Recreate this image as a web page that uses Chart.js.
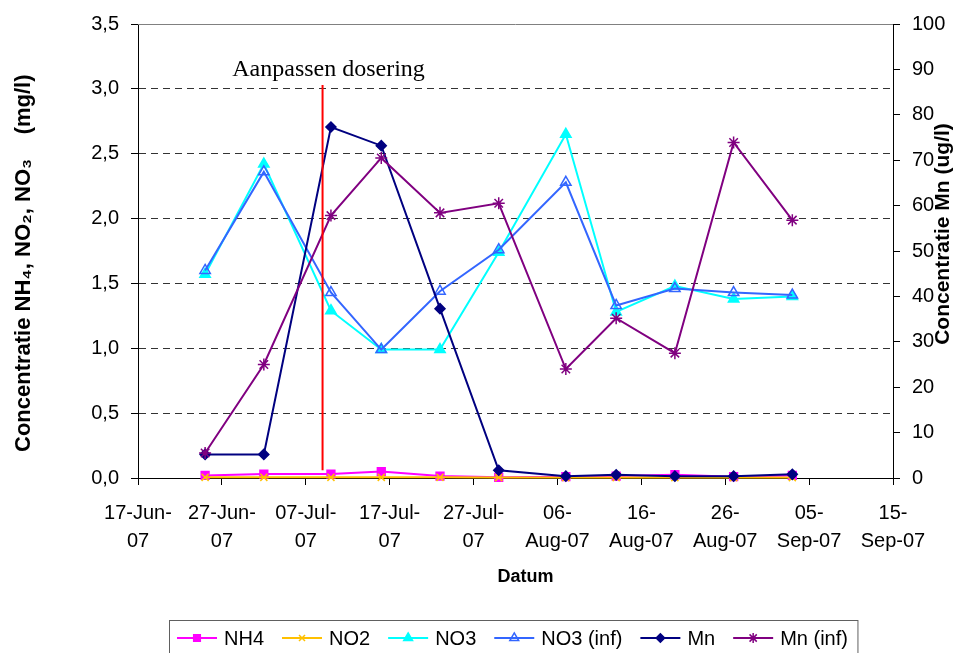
<!DOCTYPE html>
<html lang="nl">
<head>
<meta charset="UTF-8" />
<title>Concentratie NH4, NO2, NO3 en Mn</title>
<script src="https://cdn.jsdelivr.net/npm/chart.js@4.4.0/dist/chart.umd.min.js"></script>
<style>
  html, body { margin: 0; padding: 0; background: #fff; }
  #wrap { width: 954px; height: 653px; }
</style>
</head>
<body>
<div id="wrap"><canvas id="chart"></canvas></div>
<script>
// meetdata
const sampleDates = ["2007-06-25", "2007-07-02", "2007-07-10", "2007-07-16", "2007-07-23", "2007-07-30",
                     "2007-08-07", "2007-08-13", "2007-08-20", "2007-08-27", "2007-09-03"];
const nh4    = [0.02, 0.03, 0.03, 0.05, 0.015, 0.005, 0.01, 0.015, 0.025, 0.01, 0.02];
const no2    = [0.005, 0.005, 0.005, 0.005, 0.005, 0.003, 0.003, 0.003, 0.003, 0.003, 0.003];
const no3    = [1.57, 2.42, 1.29, 0.99, 0.99, 1.74, 2.65, 1.28, 1.48, 1.38, 1.40];
const no3Inf = [1.60, 2.36, 1.43, 0.99, 1.44, 1.76, 2.28, 1.33, 1.46, 1.43, 1.41];
const mn     = [5.2, 5.2, 77.3, 73.2, 37.3, 1.7, 0.4, 0.7, 0.4, 0.4, 0.8];
const mnInf  = [5.5, 25, 57.8, 70.5, 58.4, 60.5, 24.0, 35.2, 27.5, 73.9, 56.8];

// moment van aanpassen dosering
const doseringDate = "2007-07-09";
const doseringRange = [0.06, 3.03];
const doseringLabel = "Aanpassen dosering";

// x-as (dagen vanaf 17-Jun-07)
const startDate = "2007-06-17";
const xTickLabels = [["17-Jun-", "07"], ["27-Jun-", "07"], ["07-Jul-", "07"], ["17-Jul-", "07"], ["27-Jul-", "07"],
                     ["06-", "Aug-07"], ["16-", "Aug-07"], ["26-", "Aug-07"], ["05-", "Sep-07"], ["15-", "Sep-07"]];

const FONT = '"Liberation Sans", Arial, sans-serif';
const dayOf = s => (Date.parse(s) - Date.parse(startDate)) / 86400000;
const pts = vals => vals.map((v, i) => ({ x: dayOf(sampleDates[i]), y: v }));

function series(label, vals, color, style, radius, fill, axis, order) {
  return {
    label: label, data: pts(vals), yAxisID: axis, inLegend: true, order: order,
    borderColor: color, borderWidth: 2, pointStyle: style, pointRadius: radius,
    pointBackgroundColor: fill, pointBorderColor: color, pointBorderWidth: 1.5,
    clip: false
  };
}

// extra tekeningen: kader boven, label, rechter astitel, legenda
const extras = {
  id: 'extras',
  afterDraw(chart) {
    const { ctx, chartArea: a, scales } = chart;
    ctx.save();
    ctx.strokeStyle = '#808080';
    ctx.lineWidth = 1;
    ctx.beginPath();
    ctx.moveTo(a.left, a.top + 0.5);
    ctx.lineTo(a.right, a.top + 0.5);
    ctx.stroke();

    const lx = scales.x.getPixelForValue(dayOf(doseringDate));
    const ly = scales.y.getPixelForValue(doseringRange[1]);
    ctx.font = '24px "Liberation Serif", serif';
    ctx.fillStyle = '#000';
    ctx.textAlign = 'center';
    ctx.textBaseline = 'alphabetic';
    ctx.fillText(doseringLabel, lx + 6, ly - 9);

    ctx.translate(943, (a.top + a.bottom) / 2 - 17);
    ctx.rotate(-Math.PI / 2);
    ctx.font = 'bold 21px ' + FONT;
    ctx.textBaseline = 'middle';
    ctx.fillText('Concentratie Mn (ug/l)', 0, 0);
    ctx.restore();

    // legenda
    ctx.save();
    ctx.font = '20px ' + FONT;
    ctx.textBaseline = 'middle';
    ctx.textAlign = 'left';
    let x = 177;
    const y = 638;
    chart.data.datasets.filter(d => d.inLegend).forEach(d => {
      ctx.strokeStyle = d.borderColor;
      ctx.lineWidth = 2;
      ctx.beginPath();
      ctx.moveTo(x, y);
      ctx.lineTo(x + 40, y);
      ctx.stroke();
      ctx.fillStyle = d.pointBackgroundColor;
      ctx.strokeStyle = d.pointBorderColor;
      ctx.lineWidth = 1.5;
      Chart.helpers.drawPoint(ctx, { pointStyle: d.pointStyle, radius: d.pointRadius * 0.85, rotation: 0, borderWidth: 1.5 }, x + 20, y);
      ctx.fillStyle = '#000';
      ctx.fillText(d.label, x + 47, y + 1);
      x += 47 + ctx.measureText(d.label).width + 18;
    });
    ctx.strokeStyle = '#606060';
    ctx.lineWidth = 1;
    ctx.strokeRect(169.5, 620.5, x - 8 - 169.5, 60);
    ctx.restore();
  }
};

const ctx = document.getElementById('chart').getContext('2d');
new Chart(ctx, {
  type: 'line',
  data: {
    datasets: [
      series('NH4', nh4, '#FF00FF', 'rect', 5.5, '#FF00FF', 'y', 6),
      series('NO2', no2, '#FFC000', 'crossRot', 5, '#FFC000', 'y', 5),
      series('NO3', no3, '#00FFFF', 'triangle', 6, '#00FFFF', 'y', 4),
      series('NO3 (inf)', no3Inf, '#3366FF', 'triangle', 6, 'rgba(255,255,255,0)', 'y', 3),
      series('Mn', mn, '#000080', 'rectRot', 5, '#000080', 'y2', 2),
      series('Mn (inf)', mnInf, '#800080', 'star', 6, '#800080', 'y2', 1),
      {
        label: '', inLegend: false, order: 0, yAxisID: 'y',
        data: doseringRange.map(v => ({ x: dayOf(doseringDate), y: v })),
        borderColor: '#FF0000', borderWidth: 2, pointRadius: 0
      }
    ]
  },
  options: {
    responsive: true,
    maintainAspectRatio: false,
    animation: false,
    events: [],
    font: { family: FONT },
    layout: { padding: { top: 22, bottom: 65, left: 0, right: 0 } },
    plugins: { legend: { display: false }, tooltip: { enabled: false } },
    scales: {
      x: {
        type: 'linear',
        min: 0, max: 90,
        afterFit: s => { s.height = 110; },
        ticks: {
          stepSize: 10, autoSkip: false, maxRotation: 0, padding: 14,
          color: '#000', font: { family: FONT, size: 20, lineHeight: 1.4 },
          callback: (v, i) => xTickLabels[i]
        },
        grid: { drawOnChartArea: false, tickLength: 7, tickColor: '#000' },
        border: { color: '#000', width: 1 },
        title: { display: true, text: '    Datum', color: '#000', padding: { top: 0, bottom: 0 },
                 font: { family: FONT, size: 18, weight: 'bold' } }
      },
      y: {
        position: 'left',
        min: 0, max: 3.5,
        afterFit: s => { s.width = 138; },
        ticks: {
          stepSize: 0.5, padding: 12, color: '#000', font: { family: FONT, size: 20 },
          callback: v => v.toFixed(1).replace('.', ',')
        },
        grid: {
          color: c => (c.tick && (c.tick.value === 0 || c.tick.value === 3.5)) ? 'rgba(0,0,0,0)' : '#333',
          tickLength: 7, tickColor: '#000'
        },
        border: { color: '#000', width: 1, dash: [7, 5] },
        title: { display: true, text: 'Concentratie NH\u2084, NO\u2082, NO\u2083    (mg/l)    ', color: '#000',
                 padding: { top: 11, bottom: 0 }, font: { family: FONT, size: 22, weight: 'bold' } }
      },
      y2: {
        position: 'right',
        min: 0, max: 100,
        afterFit: s => { s.width = 61; },
        ticks: { stepSize: 10, padding: 12, color: '#000', font: { family: FONT, size: 20 } },
        grid: { drawOnChartArea: false, tickLength: 7, tickColor: '#000' },
        border: { color: '#000', width: 1 }
      }
    }
  },
  plugins: [extras]
});
</script>
</body>
</html>
